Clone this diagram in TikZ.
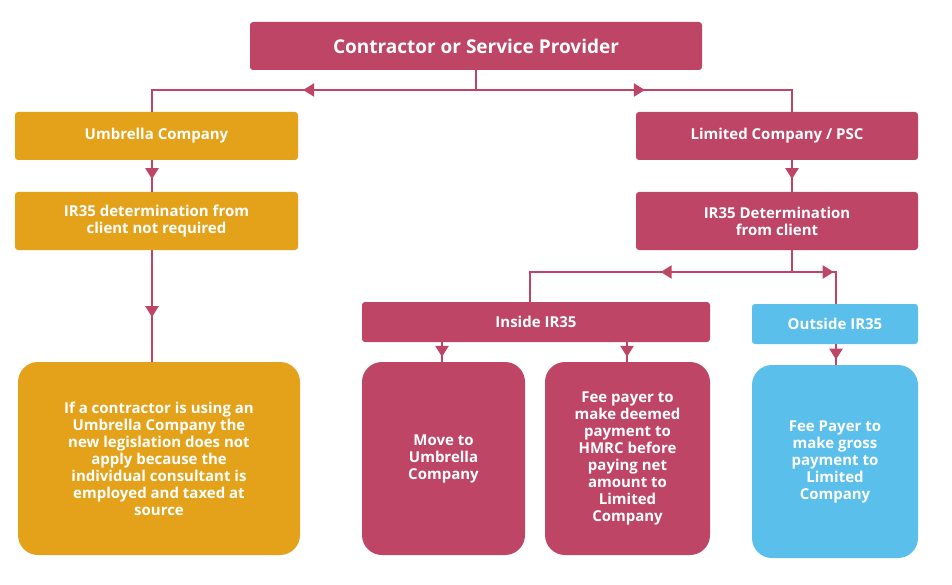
\documentclass[tikz,border=0pt]{standalone}
\usepackage{fontspec}
\setmainfont{Open Sans}
\usetikzlibrary{arrows.meta,decorations.markings}
\definecolor{crim}{HTML}{BE4565}
\definecolor{gold}{HTML}{E3A21A}
\definecolor{sky}{HTML}{5BBFEB}
\tikzset{
  box/.style={draw=none, rounded corners=3pt, text=white, font=\bfseries\fontsize{15}{17}\selectfont, align=center, inner sep=0pt},
  big/.style={box, rounded corners=20pt},
  link/.style={crim, line width=2.2pt},
  mid/.style={postaction={decorate}, decoration={markings, mark=at position #1 with {\arrow[crim]{Triangle[length=11pt,width=13pt]}}}}
}
\begin{document}
\begin{tikzpicture}[x=1pt, y=-1pt]
  \useasboundingbox (0,0) rectangle (952,585);

  % boxes
  \node[box, fill=crim, minimum width=452pt, minimum height=48pt, font=\bfseries\fontsize{19}{21}\selectfont] (top) at (476,46) {Contractor or Service Provider};
  \node[box, fill=gold, minimum width=283pt, minimum height=48pt] (umb) at (156.5,136) {Umbrella Company};
  \node[box, fill=gold, minimum width=283pt, minimum height=58pt] (udet) at (156.5,221) {IR35 determination from\\client not required};
  \node[big, fill=gold, minimum width=282pt, minimum height=193pt] (unote) at (159,458.5) {If a contractor is using an\\Umbrella Company the\\new legislation does not\\apply because the\\individual consultant is\\employed and taxed at\\source};
  \node[box, fill=crim, minimum width=282pt, minimum height=48pt] (ltd) at (777,136) {Limited Company / PSC};
  \node[box, fill=crim, minimum width=282pt, minimum height=58pt] (ldet) at (777,221) {IR35 Determination\\from client};
  \node[box, fill=crim, minimum width=348pt, minimum height=40pt] (ins) at (536,322) {Inside IR35};
  \node[box, fill=sky, minimum width=166pt, minimum height=40pt] (outs) at (835,324) {Outside IR35};
  \node[big, fill=crim, minimum width=163pt, minimum height=193pt] (move) at (443.5,458.5) {Move to\\Umbrella\\Company};
  \node[big, fill=crim, minimum width=165pt, minimum height=193pt] (fee) at (627.5,458.5) {Fee payer to\\make deemed\\payment to\\HMRC before\\paying net\\amount to\\Limited\\Company};
  \node[big, fill=sky, minimum width=166pt, minimum height=193pt] (gross) at (835,461.5) {Fee Payer to\\make gross\\payment to\\Limited\\Company};

  % junctions
  \coordinate (j1) at (476,90);
  \coordinate (j2) at (792,272);

  % connectors
  \draw[link] (top) -- (j1);
  \draw[link, mid=0.5] (j1) -| (umb.north -| 152,0);
  \draw[link, mid=0.5] (j1) -| (ltd.north -| 792,0);
  \draw[link, mid=0.6] (umb.south -| 152,0) -- (udet.north -| 152,0);
  \draw[link, mid=0.6] (udet.south -| 152,0) -- (unote.north -| 152,0);
  \draw[link, mid=0.6] (ltd.south -| 792,0) -- (ldet.north -| 792,0);
  \draw[link] (ldet.south -| 792,0) -- (j2);
  \draw[link, mid=0.45] (j2) -| (ins.north -| 530,0);
  \draw[link, mid=0.55] (j2) -| (outs.north -| 836,0);
  \draw[link, mid=0.75] (ins.south -| 442,0) -- (move.north -| 442,0);
  \draw[link, mid=0.75] (ins.south -| 627,0) -- (fee.north -| 627,0);
  \draw[link, mid=0.75] (outs.south -| 836,0) -- (gross.north -| 836,0);
\end{tikzpicture}
\end{document}
